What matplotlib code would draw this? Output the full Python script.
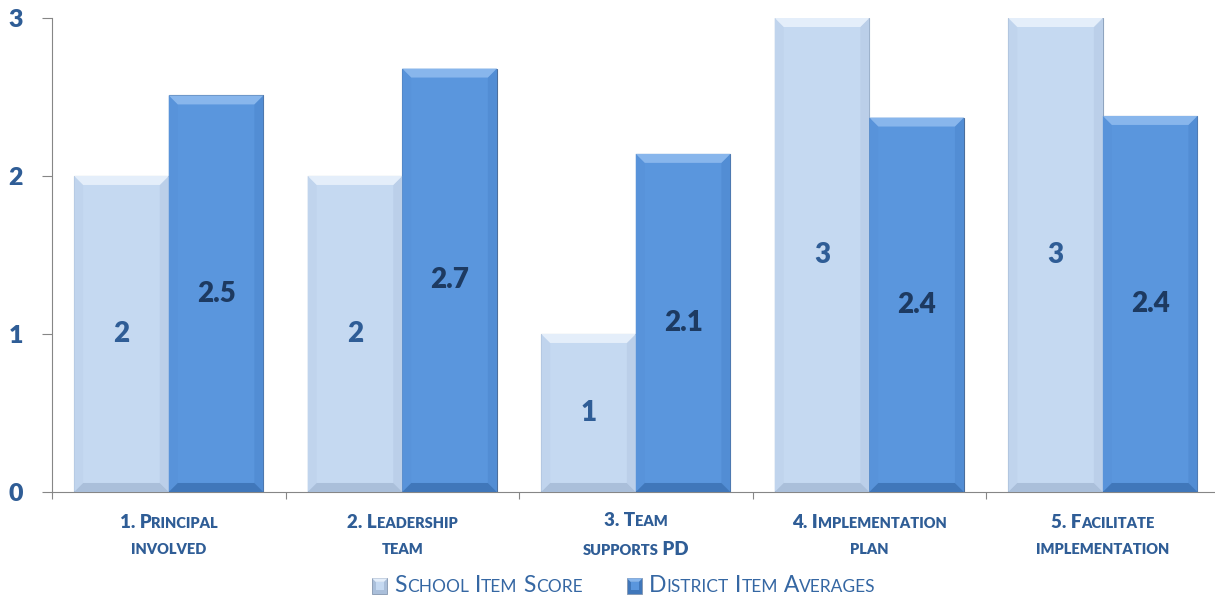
import matplotlib
matplotlib.use("Agg")
import matplotlib.pyplot as plt
from matplotlib.patches import Polygon, Rectangle
from matplotlib.offsetbox import TextArea, HPacker, VPacker, AnnotationBbox, DrawingArea
from matplotlib.transforms import blended_transform_factory

categories = [
    ("1. Principal", "involved"),
    ("2. Leadership", "team"),
    ("3. Team", "supports PD"),
    ("4. Implementation", "plan"),
    ("5. Facilitate", "implementation"),
]
school_scores = [2, 2, 1, 3, 3]
district_avgs = [2.51, 2.68, 2.14, 2.37, 2.38]
series_names = ["School Item Score", "District Item Averages"]

FONT = "Lato"
LABEL_BLUE = "#2F5D96"
DARK_LABEL = "#1D3A61"

school_colors = dict(face="#C5D9F1", top="#E4EEFA", bottom="#AABFDA", left="#C0D4ED", right="#BBCFE9")
district_colors = dict(face="#5A96DD", top="#88B6EC", bottom="#4077BA", left="#5893DA", right="#528DD4")

plt.rcParams["font.family"] = [FONT, "DejaVu Sans"]

fig = plt.figure(figsize=(12.15, 5.98), dpi=100)
ax = fig.add_axes([52 / 1215, 0.1773, 0.961, 0.7926])

n = len(categories)
xs = list(range(n))
width = 0.405

ax.set_xlim(-0.5, n - 0.5)
ax.set_ylim(0, 3)

bars_s = ax.bar([x - width / 2 for x in xs], school_scores, width=width,
                color=school_colors["face"], edgecolor="#8FA4BF", linewidth=0.8, zorder=2)
bars_d = ax.bar([x + width / 2 for x in xs], district_avgs, width=width,
                color=district_colors["face"], edgecolor="#4B6E9C", linewidth=0.8, zorder=2)

# bevel size in pixels converted to data units
ax_w = 0.961 * 1215
ax_h = 0.7926 * 598
bev_px = 9
dx = bev_px / ax_w * n
dy = bev_px / ax_h * 3


def bevel(bar, cols):
    x0 = bar.get_x()
    x1 = x0 + bar.get_width()
    y0 = 0
    y1 = bar.get_height()
    polys = {
        "left": [(x0, y0), (x0 + dx, y0 + dy), (x0 + dx, y1 - dy), (x0, y1)],
        "right": [(x1, y0), (x1 - dx, y0 + dy), (x1 - dx, y1 - dy), (x1, y1)],
        "top": [(x0, y1), (x1, y1), (x1 - dx, y1 - dy), (x0 + dx, y1 - dy)],
        "bottom": [(x0, y0), (x1, y0), (x1 - dx, y0 + dy), (x0 + dx, y0 + dy)],
    }
    for k, pts in polys.items():
        ax.add_patch(Polygon(pts, closed=True, facecolor=cols[k], edgecolor="none", zorder=3))


for b in bars_s:
    bevel(b, school_colors)
for b in bars_d:
    bevel(b, district_colors)

for b, v in zip(bars_s, school_scores):
    ax.text(b.get_x() + b.get_width() / 2, v / 2, f"{v:g}", ha="center", va="center",
            fontsize=20, fontweight=800, color=LABEL_BLUE, zorder=4)
for b, v in zip(bars_d, district_avgs):
    ax.text(b.get_x() + b.get_width() / 2, v / 2, f"{v:.1f}", ha="center", va="center",
            fontsize=20, fontweight=800, color=DARK_LABEL, zorder=4)

# axes styling
for s in ["top", "right"]:
    ax.spines[s].set_visible(False)
ax.spines["left"].set_color("#868686")
ax.spines["bottom"].set_color("#868686")
ax.set_yticks([0, 1, 2, 3])
ax.set_yticklabels(["0", "1", "2", "3"], fontsize=18, fontweight=800, color=LABEL_BLUE)
ax.tick_params(axis="y", length=7, color="#868686", pad=14)
ax.set_xticks([x - 0.5 for x in xs] + [n - 0.5])
ax.set_xticklabels([])
ax.tick_params(axis="x", length=5, color="#868686")


def smallcaps(text, big, small, weight, color):
    # split text into runs of big (capitals / digits / punctuation) and small (lowercase)
    runs = []
    for ch in text:
        is_small = ch.islower()
        if runs and runs[-1][1] == is_small:
            runs[-1][0] += ch
        else:
            runs.append([ch, is_small])
    areas = []
    for s, is_small in runs:
        areas.append(TextArea(s.upper(), textprops=dict(
            fontsize=small if is_small else big, fontweight=weight, color=color,
            family=[FONT, "DejaVu Sans"])))
    return HPacker(children=areas, align="baseline", pad=0, sep=0)


trans = blended_transform_factory(ax.transData, fig.transFigure)
for x, (l1, l2) in zip(xs, categories):
    box = VPacker(children=[smallcaps(l1, 13.5, 10.5, 800, LABEL_BLUE),
                            smallcaps(l2, 13.5, 10.5, 800, LABEL_BLUE)],
                  align="center", pad=0, sep=8)
    ab = AnnotationBbox(box, (x, (598 - 535) / 598), xycoords=trans, frameon=False,
                        box_alignment=(0.5, 0.5), pad=0, annotation_clip=False)
    fig.add_artist(ab)

# legend
items = []
for name, cols in zip(series_names, [school_colors, district_colors]):
    da = DrawingArea(11, 11, 0, 0)
    da.add_artist(Rectangle((0, 0), 11, 11, facecolor=cols["bottom"], edgecolor="#8497B0", linewidth=0.6))
    da.add_artist(Polygon([(0, 11), (11, 11), (8.5, 8.5), (2.5, 8.5)], facecolor=cols["top"], edgecolor="none"))
    da.add_artist(Rectangle((2.5, 2.5), 6, 6, facecolor=cols["face"], edgecolor="none"))
    txt = smallcaps(name, 16.5, 12.5, "normal", "#3567A3")
    items.append(HPacker(children=[da, txt], align="center", pad=0, sep=5))
leg = HPacker(children=items, align="center", pad=0, sep=32)
fig.add_artist(AnnotationBbox(leg, (624 / 1215, (598 - 586) / 598), xycoords="figure fraction",
                              frameon=False, box_alignment=(0.5, 0.5), pad=0, annotation_clip=False))

fig.savefig("out.png", dpi=100)
